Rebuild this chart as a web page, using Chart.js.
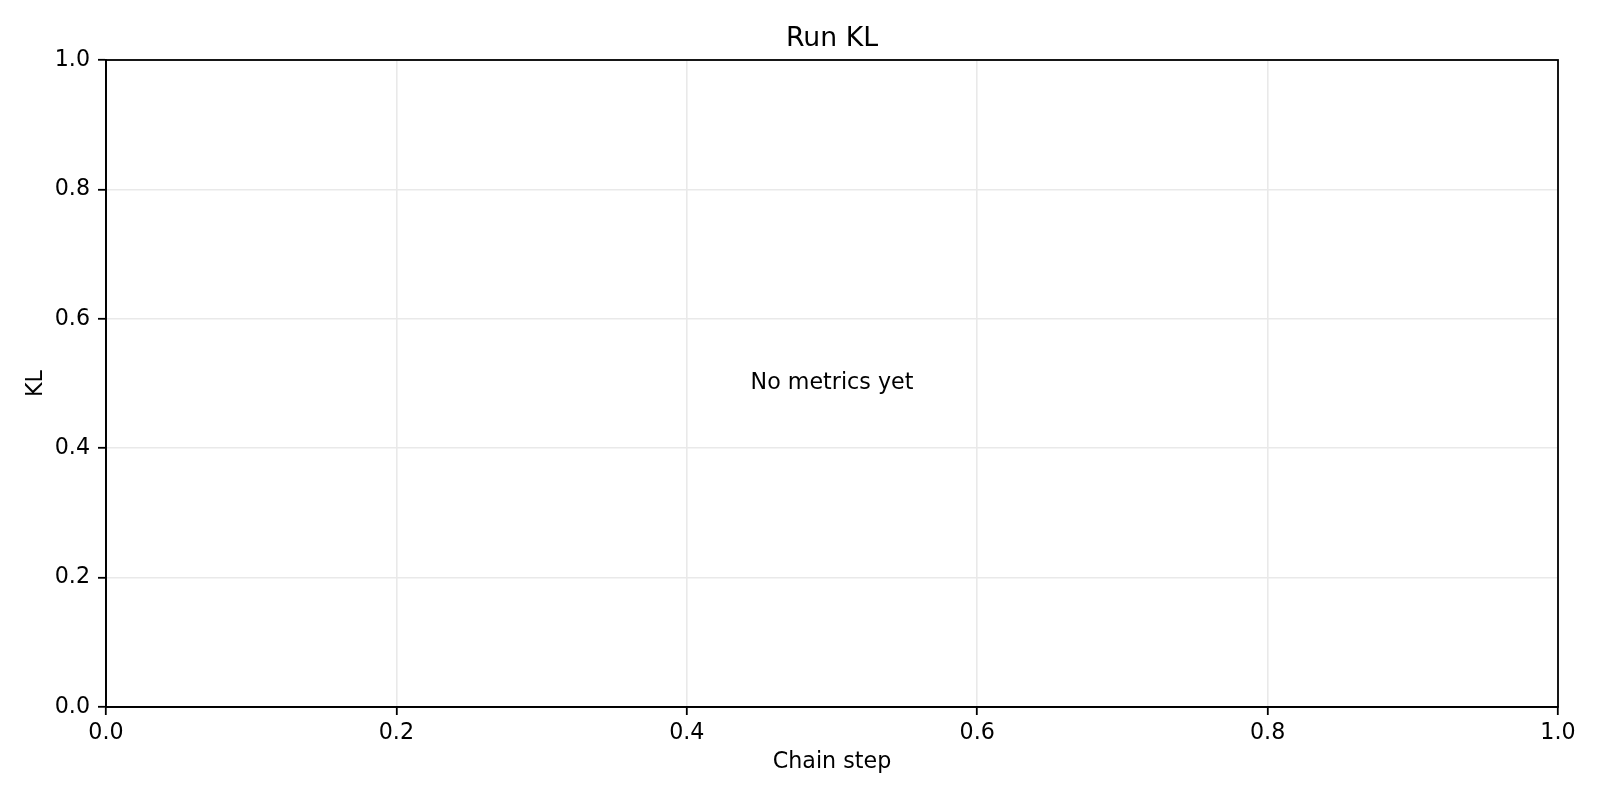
<!DOCTYPE html>
<html>
<head>
<meta charset="utf-8">
<script src="https://cdn.jsdelivr.net/npm/chart.js@4/dist/chart.umd.min.js"></script>
<style>
  html, body { margin: 0; padding: 0; background: #ffffff; }
  #wrap { width: 1600px; height: 800px; }
</style>
</head>
<body>
<div id="wrap"><canvas id="chart"></canvas></div>
<script>
// no runs logged yet, so both series are empty
var chainSteps = [];
var klValues = [];
var xTickValues = [0.0, 0.2, 0.4, 0.6, 0.8, 1.0];
var yTickValues = [0.0, 0.2, 0.4, 0.6, 0.8, 1.0];
var chartTitle = 'Run KL';
var xLabel = 'Chain step';
var yLabel = 'KL';
var emptyMessage = 'No metrics yet';

var FONT = 'DejaVu Sans';
var GRID = '#e9e9e9';

// title + box + "no data" text, matplotlib style
var decorations = {
    id: 'decorations',
    afterDraw: function(chart) {
        var ctx = chart.ctx;
        var a = chart.chartArea;
        var cx = (a.left + a.right) / 2;
        ctx.save();
        ctx.strokeStyle = '#000000';
        ctx.lineWidth = 1.8;
        ctx.strokeRect(a.left, a.top, a.right - a.left, a.bottom - a.top);
        ctx.fillStyle = '#000000';
        ctx.textAlign = 'center';
        ctx.textBaseline = 'alphabetic';
        ctx.font = '26.7px "' + FONT + '"';
        ctx.fillText(chartTitle, cx, 45.7);
        if (klValues.length === 0) {
            ctx.textBaseline = 'middle';
            ctx.font = '22.2px "' + FONT + '"';
            ctx.fillText(emptyMessage, cx, (a.top + a.bottom) / 2);
        }
        ctx.restore();
    }
};

var points = [];
for (var i = 0; i < klValues.length; i++) {
    points.push({ x: chainSteps[i], y: klValues[i] });
}

new Chart(document.getElementById('chart'), {
    type: 'scatter',
    data: {
        datasets: [{
            label: yLabel,
            data: points,
            borderColor: '#1f77b4',
            backgroundColor: '#1f77b4'
        }]
    },
    options: {
        responsive: true,
        maintainAspectRatio: false,
        animation: false,
        layout: { padding: { top: 60, right: 42, left: 0, bottom: 0 } },
        plugins: {
            legend: { display: false },
            title: { display: false },
            tooltip: { enabled: false }
        },
        scales: {
            x: {
                type: 'linear',
                min: 0,
                max: 1,
                afterBuildTicks: function(scale) {
                    scale.ticks = xTickValues.map(function(v) { return { value: v }; });
                },
                afterFit: function(scale) { scale.height = 93; },
                ticks: {
                    color: '#000000',
                    padding: 5,
                    maxRotation: 0,
                    font: { family: FONT, size: 22.2 },
                    callback: function(v) { return Number(v).toFixed(1); }
                },
                grid: {
                    color: GRID,
                    lineWidth: 1.6,
                    tickColor: '#000000',
                    tickLength: 8,
                    tickWidth: 1.8
                },
                border: { color: '#000000', width: 1.8 },
                title: {
                    display: true,
                    text: xLabel,
                    color: '#000000',
                    font: { family: FONT, size: 22.2 },
                    padding: { top: 0, bottom: 24 }
                }
            },
            y: {
                type: 'linear',
                min: 0,
                max: 1,
                afterBuildTicks: function(scale) {
                    scale.ticks = yTickValues.map(function(v) { return { value: v }; });
                },
                afterFit: function(scale) { scale.width = 106; },
                ticks: {
                    color: '#000000',
                    padding: 8,
                    font: { family: FONT, size: 22.2 },
                    callback: function(v) { return Number(v).toFixed(1); }
                },
                grid: {
                    color: GRID,
                    lineWidth: 1.6,
                    tickColor: '#000000',
                    tickLength: 8,
                    tickWidth: 1.8
                },
                border: { color: '#000000', width: 1.8 },
                title: {
                    display: true,
                    text: yLabel,
                    color: '#000000',
                    font: { family: FONT, size: 22.2 },
                    padding: { top: 23, bottom: 0 }
                }
            }
        }
    },
    plugins: [decorations]
});
</script>
</body>
</html>
